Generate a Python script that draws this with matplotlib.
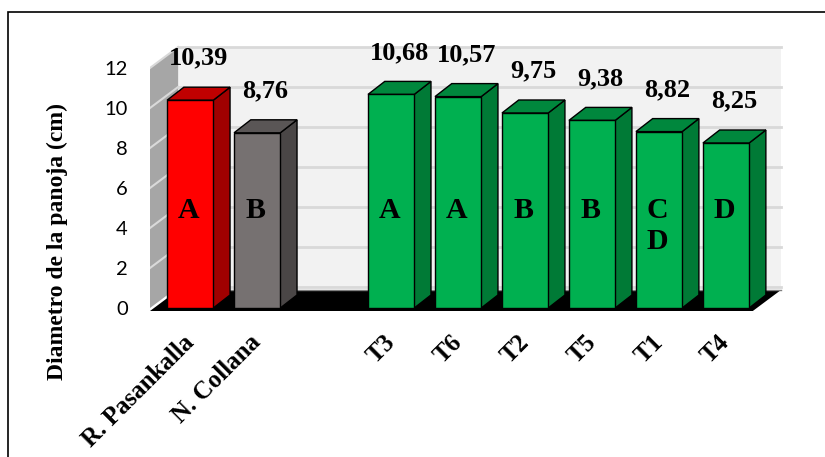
import numpy as np
import matplotlib.pyplot as plt
from matplotlib.patches import Polygon, Rectangle

# Datos: diametro de panoja (cm)
testigos = ['R. Pasankalla', 'N. Collana']
diam_testigos = [10.39, 8.76]
letras_testigos = ['A', 'B']

tratamientos = ['T3', 'T6', 'T2', 'T5', 'T1', 'T4']
diam_tratamientos = [10.68, 10.57, 9.75, 9.38, 8.82, 8.25]
letras_tratamientos = ['A', 'A', 'B', 'B', 'C\nD', 'D']

# colores (frente, tapa, costado)
col_testigos = [('#ff0000', '#c00000', '#a00000'),
                ('#767171', '#5a5656', '#4a4646')]
col_trat = ('#00b050', '#00873d', '#007a36')

serif = 'Liberation Serif'

nombres = testigos + tratamientos
valores = diam_testigos + diam_tratamientos
letras = letras_testigos + letras_tratamientos
colores = col_testigos + [col_trat] * len(tratamientos)
# un espacio vacio entre testigos y tratamientos
pos = list(np.arange(len(testigos))) + list(np.arange(len(tratamientos)) + len(testigos) + 1)

fig = plt.figure(figsize=(8.25, 4.57), dpi=100)
ax = fig.add_axes([150 / 825, (457 - 312) / 457, 643 / 825, 268 / 457])
ax.set_xlim(-0.6, 9.0)
ax.set_ylim(-0.2, 13.2)
for s in ax.spines.values():
    s.set_visible(False)

# profundidad de paredes y barras (en unidades de datos)
wdx, wdy = 0.42, 1.05
bdx, bdy = 0.25, 0.65
ancho = 0.69
x0, x1 = -0.6, 8.4

# pared del fondo con lineas de division
ax.add_patch(Rectangle((x0 + wdx, wdy), x1 - x0, 12, fc='#f2f2f2', ec='none', zorder=1))
for v in range(0, 13, 2):
    ax.plot([x0 + wdx, x1 + wdx], [v + wdy, v + wdy], color='#d9d9d9', lw=2, zorder=2)

# pared lateral
ax.add_patch(Polygon([(x0, 0), (x0 + wdx, wdy), (x0 + wdx, 12 + wdy), (x0, 12)],
                     fc='#a6a6a6', ec='none', zorder=3))
for v in range(2, 13, 2):
    ax.plot([x0, x0 + wdx], [v, v + wdy], color='#d9d9d9', lw=1.5, zorder=3)

# piso
fy = -0.15
ax.add_patch(Polygon([(x0, fy), (x1, fy), (x1 + wdx, fy + wdy), (x0 + wdx, fy + wdy)],
                     fc='black', ec='none', zorder=4))
ax.plot([x0 + wdx, x1 + wdx], [fy + wdy, fy + wdy], color='#7f7f7f', lw=1, zorder=4)

# barras 3D
for x, v, c, l, n in zip(pos, valores, colores, letras, nombres):
    xl, xr = x - ancho / 2, x + ancho / 2
    ax.add_patch(Polygon([(xr, 0), (xr + bdx, bdy), (xr + bdx, v + bdy), (xr, v)],
                         fc=c[2], ec='black', lw=1, zorder=5))
    ax.add_patch(Polygon([(xl, v), (xr, v), (xr + bdx, v + bdy), (xl + bdx, v + bdy)],
                         fc=c[1], ec='black', lw=1, zorder=5))
    ax.add_patch(Rectangle((xl, 0), ancho, v, fc=c[0], ec='black', lw=1, zorder=6))
    ax.text(x + 0.12, v + 2.1, f'{v:.2f}'.replace('.', ','), ha='center', va='center',
            fontsize=19, fontweight='bold', family=serif, zorder=7)
    ax.text(x - 0.03, 5.55, l, ha='center', va='top', fontsize=21.5, fontweight='bold',
            family=serif, linespacing=1.2, zorder=7)
    ax.text(x - 0.12, -1.15, n, ha='right', va='top', rotation=45, rotation_mode='anchor',
            fontsize=18, fontweight='bold', family=serif)

ax.set_xticks([])
ax.set_yticks(np.arange(0, 13, 2))
ax.tick_params(axis='y', length=0, pad=16)
for t in ax.get_yticklabels():
    t.set_fontfamily('Lato')
    t.set_fontsize(14.5)
ax.set_ylabel('Diametro de la panoja (cm)', fontsize=17, fontweight='bold', family=serif)
ax.yaxis.set_label_coords(-(150 - 68) / 643, (312 - 242) / 268)

# marco del grafico
fig.patches.append(Rectangle((8 / 825, -0.1), 1.1, 1 - 12 / 457 + 0.1, transform=fig.transFigure,
                             fill=False, ec='black', lw=1.2))

fig.savefig('out.png', dpi=100)
